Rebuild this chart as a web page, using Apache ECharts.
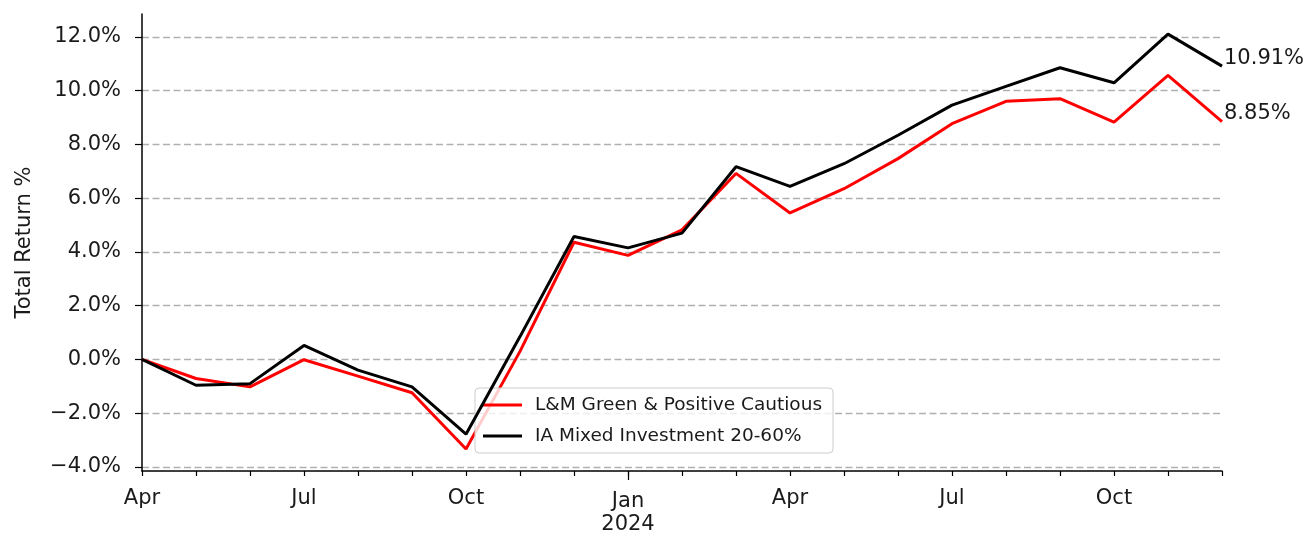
<!DOCTYPE html>
<html>
<head>
<meta charset="utf-8">
<script src="https://cdn.jsdelivr.net/npm/echarts@6/dist/echarts.min.js"></script>
<style>
html,body{margin:0;padding:0;background:#fff;}
#chart{width:1306px;height:533px;}
</style>
</head>
<body>
<div id="chart"></div>
<script>
const months = ['2023-04','2023-05','2023-06','2023-07','2023-08','2023-09','2023-10','2023-11','2023-12',
  '2024-01','2024-02','2024-03','2024-04','2024-05','2024-06','2024-07','2024-08','2024-09','2024-10','2024-11','2024-12'];
const tickLabels = ['Apr','','','Jul','','','Oct','','','Jan\n2024','','','Apr','','','Jul','','','Oct','',''];
const fundName = 'L&M Green & Positive Cautious';
const sectorName = 'IA Mixed Investment 20-60%';
const fundValues = [0.0,-0.71,-1.02,-0.01,-0.62,-1.24,-3.33,0.30,4.36,3.87,4.82,6.92,5.45,6.35,7.47,8.77,9.60,9.70,8.83,10.57,8.85];
const sectorValues = [0.0,-0.96,-0.90,0.52,-0.40,-1.02,-2.78,0.85,4.57,4.15,4.70,7.17,6.44,7.28,8.34,9.46,10.16,10.85,10.29,12.10,10.91];
const yTicks = [-4,-2,0,2,4,6,8,10,12];

const FONT = 'DejaVu Sans';
const TXT = '#1a1a1a';
const chart = echarts.init(document.getElementById('chart'));
const fmtPct = v => (v.toFixed(1) + '%').replace('-', '\u2212');
const isYearLabel = i => tickLabels[i].indexOf('\n') >= 0;

chart.setOption({
  animation: false,
  grid: {left: 142, right: 84, top: 14, bottom: 62, containLabel: false, outerBoundsMode: 'none'},
  legend: {
    orient: 'vertical', left: 475, top: 388,
    padding: [7, 11, 7, 8], itemGap: 11,
    itemWidth: 39, itemHeight: 3, icon: 'rect',
    backgroundColor: 'rgba(255,255,255,0.8)',
    borderColor: '#cccccc', borderWidth: 1, borderRadius: 4,
    textStyle: {fontFamily: FONT, fontSize: 18.5, color: TXT, padding: [0, 0, 0, 8], lineHeight: 20},
    data: [fundName, sectorName]
  },
  xAxis: [{
    type: 'category', data: months, boundaryGap: false,
    axisLine: {show: true, onZero: false, lineStyle: {color: '#000', width: 1.5}},
    axisTick: {show: true, interval: 0, length: 5, lineStyle: {color: '#000', width: 1.2}},
    axisLabel: {
      interval: (i) => tickLabels[i] !== '' && !isYearLabel(i),
      formatter: (v, i) => tickLabels[i],
      fontFamily: FONT, fontSize: 21, color: TXT, margin: 16, lineHeight: 24
    },
    splitLine: {show: false}
  }, {
    type: 'category', data: months, boundaryGap: false, position: 'bottom',
    axisLine: {show: false, onZero: false},
    axisTick: {show: true, interval: (i) => isYearLabel(i), length: 9, lineStyle: {color: '#000', width: 1.2}},
    axisLabel: {
      interval: (i) => isYearLabel(i),
      formatter: (v, i) => tickLabels[i],
      fontFamily: FONT, fontSize: 21, color: TXT, margin: 19, lineHeight: 23
    },
    splitLine: {show: false}
  }],
  yAxis: {
    type: 'value', min: -4.15, max: 12.85,
    name: 'Total Return %', nameLocation: 'middle', nameGap: 107, nameRotate: 90,
    nameTextStyle: {fontFamily: FONT, fontSize: 21, color: TXT},
    axisLine: {show: true, lineStyle: {color: '#000', width: 1.5}},
    axisTick: {show: true, customValues: yTicks, length: 7, lineStyle: {color: '#000', width: 1.2}},
    axisLabel: {customValues: yTicks, formatter: v => fmtPct(v), fontFamily: FONT, fontSize: 21, color: TXT, margin: 21},
    splitLine: {show: true, lineStyle: {color: '#b0b0b0', width: 1.4, type: [7, 3.5]}}
  },
  series: [{
    name: fundName, type: 'line', data: fundValues, symbol: 'none', z: 3,
    lineStyle: {color: '#ff0000', width: 3}, itemStyle: {color: '#ff0000'},
    endLabel: {show: true, formatter: p => p.value.toFixed(2) + '%', fontFamily: FONT, fontSize: 21, color: TXT, distance: 2, offset: [0, -8]}
  }, {
    name: sectorName, type: 'line', data: sectorValues, symbol: 'none', z: 4,
    lineStyle: {color: '#000000', width: 3}, itemStyle: {color: '#000000'},
    endLabel: {show: true, formatter: p => p.value.toFixed(2) + '%', fontFamily: FONT, fontSize: 21, color: TXT, distance: 2, offset: [0, -8]}
  }]
});
</script>
</body>
</html>
